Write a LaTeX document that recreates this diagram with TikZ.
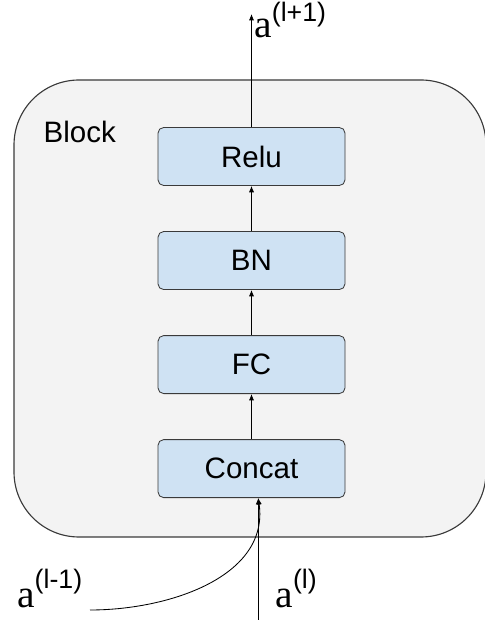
\documentclass[tikz,border=0pt]{standalone}
\usepackage{fontspec}
\setmainfont{Liberation Sans}
\newfontfamily\letterfont{Liberation Serif}
\usetikzlibrary{positioning,arrows.meta}
\definecolor{boxblue}{HTML}{CFE2F3}
\definecolor{blockgray}{HTML}{F3F3F3}
\definecolor{edgegray}{HTML}{3A3A3A}
\newcommand{\actv}[2][14pt]{{\fontsize{28}{30}\letterfont a}\raisebox{#1}{\fontsize{19}{22}\selectfont(#2)}}

\begin{document}
\begin{tikzpicture}[>={Latex[length=1.6mm,width=1.3mm]},line width=0.6pt,
  layer/.style={draw=edgegray,fill=boxblue,rounded corners=4pt,minimum width=4.675cm,minimum height=1.45cm,font=\fontsize{21}{24}\selectfont},
  node distance=1.13cm]
\useasboundingbox (0,0) rectangle (12.125,15.5);
\draw[edgegray,fill=blockgray,rounded corners=1.625cm,line width=0.8pt] (0.35,2.075) rectangle (12.15,13.5);
\node[anchor=base west,inner sep=0,font=\fontsize{21}{24}\selectfont] (blk) at (1.08,11.925) {Block};
\node[layer] (relu) at (6.2875,11.5875) {Relu};
\node[layer,below=of relu] (bn) {BN};
\node[layer,below=of bn] (fc) {FC};
\node[layer,below=of fc] (cat) {Concat};
\node[anchor=base west,inner sep=0] (anext) at (6.35,14.55) {\actv[11.5pt]{l+1}};
\node[anchor=base west,inner sep=0] (aprev) at (0.42,0.3) {\actv{l-1}};
\node[anchor=base west,inner sep=0] (acur) at (6.88,0.3) {\actv{l}};
\coordinate (top) at (6.2875,15.15);
\coordinate (join) at ([xshift=0.17cm]cat.south);
\coordinate (foot) at ([yshift=-3.1cm]join);
\coordinate (tail) at (2.25,0.25);
\draw[->] (relu) -- (top);
\draw[->] (bn) -- (relu);
\draw[->] (fc) -- (bn);
\draw[->] (cat) -- (fc);
\draw[->] (foot) -- (join);
\draw[->] (tail) to[out=0,in=-82] (join);
\end{tikzpicture}
\end{document}
